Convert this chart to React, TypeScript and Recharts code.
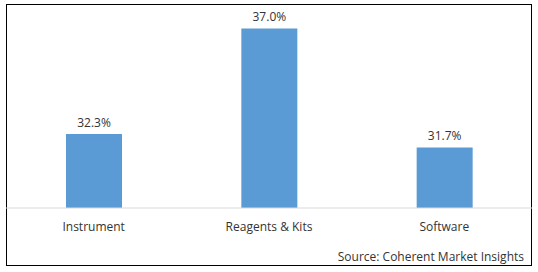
import { BarChart, Bar, XAxis, YAxis, LabelList } from "recharts"

const categories = ["Instrument", "Reagents & Kits", "Software"]
const shares = [32.3, 37.0, 31.7]
const yDomain: [number, number] = [29, 38]
const sourceNote = "Source: Coherent Market Insights"

const data = categories.map((name, i) => ({ name, share: shares[i] }))

const font = "'Open Sans', 'DejaVu Sans', sans-serif"

export default function App() {
  return (
    <div
      style={{
        position: "absolute",
        left: 0,
        top: 0,
        width: 538,
        height: 272,
        background: "#fff",
        fontFamily: font,
      }}
    >
      <div
        style={{
          position: "absolute",
          left: 6,
          top: 4,
          width: 526,
          height: 262,
          border: "1px solid #000",
          boxSizing: "border-box",
        }}
      />
      <BarChart
        width={538}
        height={272}
        data={data}
        margin={{ top: 6, right: 6, bottom: 0, left: 6 }}
        barCategoryGap="34%"
      >
        <XAxis
          dataKey="name"
          height={64}
          tickLine={false}
          axisLine={{ stroke: "#d9d9d9" }}
          tickMargin={8}
          tick={{ fill: "#333", fontSize: 12, fontFamily: font }}
        />
        <YAxis hide domain={yDomain} allowDataOverflow />
        <Bar dataKey="share" fill="#5b9bd5" barSize={56} isAnimationActive={false}>
          <LabelList
            dataKey="share"
            position="top"
            offset={7}
            formatter={(v: number) => `${v.toFixed(1)}%`}
            style={{ fill: "#333", fontSize: 12, fontFamily: font }}
          />
        </Bar>
      </BarChart>
      <div
        style={{
          position: "absolute",
          right: 538 - 524,
          top: 248,
          fontSize: 12,
          color: "#333",
          whiteSpace: "nowrap",
        }}
      >
        {sourceNote}
      </div>
    </div>
  )
}
